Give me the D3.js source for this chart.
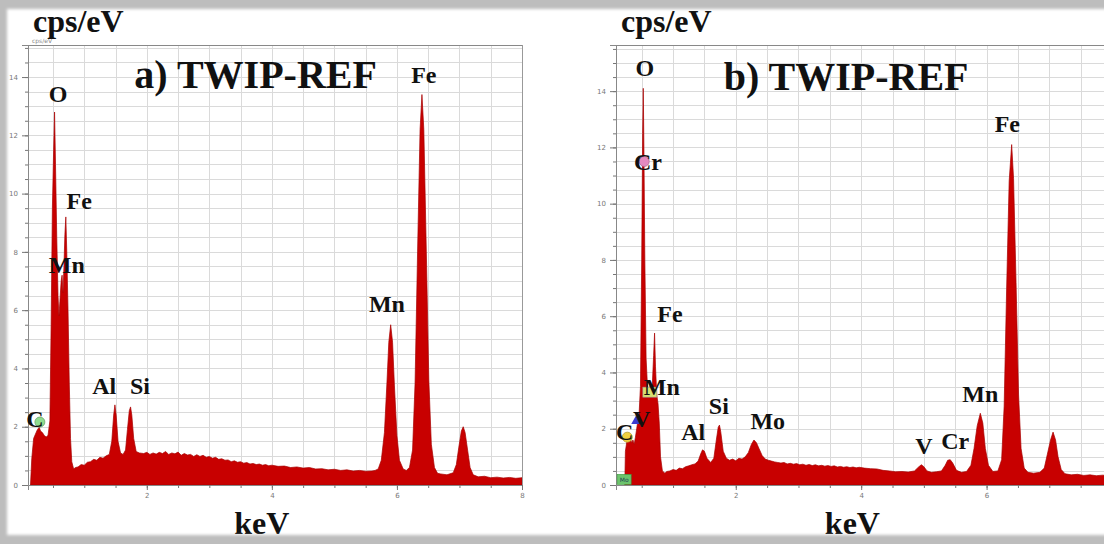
<!DOCTYPE html>
<html>
<head>
<meta charset="utf-8">
<script src="https://cdn.jsdelivr.net/npm/d3@7"></script>
<style>
  html, body { margin: 0; padding: 0; background: #fff; }
  svg { display: block; }
</style>
</head>
<body>
<svg id="chart" width="1104" height="544"></svg>
<script>
// EDS spectrum a), [keV, cps/eV]
const spectrumA = [
  [0.14, 0], [0.16, 0.9], [0.19, 1.6], [0.22, 1.75], [0.25, 1.9], [0.28, 1.98], [0.30, 1.85], [0.33, 1.8],
  [0.36, 1.7], [0.39, 1.65], [0.42, 1.7], [0.45, 2.2], [0.47, 5.5], [0.49, 9.5], [0.51, 11.5], [0.525, 12.8],
  [0.54, 11.0], [0.56, 8.5], [0.58, 6.5], [0.595, 5.8], [0.61, 6.3], [0.63, 7.0], [0.645, 7.2], [0.66, 6.6],
  [0.675, 7.5], [0.69, 8.6], [0.705, 9.2], [0.72, 8.0], [0.74, 6.0], [0.76, 3.5], [0.78, 1.6], [0.80, 0.8],
  [0.83, 0.55], [0.86, 0.6], [0.9, 0.62], [0.95, 0.7], [1.0, 0.68], [1.05, 0.78], [1.1, 0.8], [1.15, 0.88],
  [1.2, 0.85], [1.25, 0.95], [1.3, 0.92], [1.35, 1.0], [1.40, 1.05], [1.44, 1.5], [1.47, 2.4], [1.49, 2.75],
  [1.51, 2.4], [1.54, 1.5], [1.58, 1.1], [1.62, 1.05], [1.66, 1.2], [1.69, 1.9], [1.72, 2.55], [1.74, 2.68],
  [1.76, 2.4], [1.79, 1.6], [1.83, 1.15], [1.88, 1.1], [1.95, 1.08], [2.0, 1.12], [2.05, 1.05], [2.1, 1.1],
  [2.15, 1.06], [2.2, 1.12], [2.25, 1.08], [2.3, 1.15], [2.35, 1.05], [2.4, 1.1], [2.45, 1.07], [2.5, 1.13],
  [2.55, 1.02], [2.6, 1.08], [2.65, 1.03], [2.7, 1.05], [2.75, 0.98], [2.8, 1.04], [2.85, 0.98], [2.9, 1.02],
  [2.95, 0.95], [3.0, 0.98], [3.05, 0.92], [3.1, 0.95], [3.15, 0.88], [3.2, 0.9], [3.25, 0.85], [3.3, 0.86],
  [3.35, 0.8], [3.4, 0.83], [3.45, 0.78], [3.5, 0.8], [3.55, 0.75], [3.6, 0.77], [3.65, 0.72], [3.7, 0.74],
  [3.75, 0.7], [3.8, 0.72], [3.85, 0.68], [3.9, 0.7], [3.95, 0.66], [4.0, 0.68], [4.1, 0.64], [4.2, 0.65],
  [4.3, 0.6], [4.4, 0.62], [4.5, 0.58], [4.6, 0.6], [4.7, 0.55], [4.8, 0.56], [4.9, 0.52], [5.0, 0.54],
  [5.1, 0.5], [5.2, 0.52], [5.3, 0.48], [5.4, 0.5], [5.5, 0.47], [5.6, 0.48], [5.65, 0.5], [5.7, 0.55],
  [5.75, 0.85], [5.8, 1.8], [5.84, 3.5], [5.87, 4.9], [5.9, 5.5], [5.93, 4.9], [5.96, 3.4], [6.0, 1.7],
  [6.04, 0.85], [6.1, 0.55], [6.15, 0.5], [6.2, 0.6], [6.25, 1.2], [6.29, 3.5], [6.33, 8.0], [6.37, 12.2],
  [6.4, 13.4], [6.43, 12.2], [6.47, 8.0], [6.51, 3.6], [6.55, 1.4], [6.6, 0.6], [6.65, 0.4], [6.7, 0.38],
  [6.8, 0.35], [6.9, 0.42], [6.95, 0.7], [6.99, 1.3], [7.03, 1.85], [7.06, 2.0], [7.09, 1.8], [7.13, 1.2],
  [7.17, 0.6], [7.22, 0.35], [7.3, 0.28], [7.4, 0.3], [7.5, 0.25], [7.6, 0.27], [7.7, 0.24], [7.8, 0.26],
  [7.9, 0.23], [8.0, 0.25]
];

// EDS spectrum b)
const spectrumB = [
  [0.23, 0], [0.24, 1.2], [0.26, 1.5], [0.28, 1.7], [0.30, 1.55], [0.32, 1.65], [0.34, 1.5], [0.36, 1.6],
  [0.38, 1.45], [0.40, 1.7], [0.42, 2.0], [0.44, 2.3], [0.46, 2.6], [0.48, 3.5], [0.50, 8.0], [0.515, 12.5],
  [0.525, 14.1], [0.535, 12.0], [0.55, 8.0], [0.57, 4.5], [0.59, 3.6], [0.61, 3.3], [0.63, 3.5], [0.65, 3.2],
  [0.67, 3.6], [0.69, 4.6], [0.705, 5.4], [0.72, 4.2], [0.74, 3.2], [0.76, 2.9], [0.78, 2.2], [0.80, 1.0],
  [0.83, 0.5], [0.87, 0.42], [0.9, 0.48], [0.95, 0.5], [1.0, 0.55], [1.05, 0.52], [1.1, 0.6], [1.15, 0.58],
  [1.2, 0.65], [1.25, 0.68], [1.3, 0.72], [1.35, 0.75], [1.40, 0.85], [1.44, 1.1], [1.47, 1.25], [1.5, 1.2],
  [1.54, 0.95], [1.6, 0.8], [1.65, 0.95], [1.69, 1.6], [1.72, 2.05], [1.74, 2.13], [1.76, 1.9], [1.8, 1.2],
  [1.85, 0.95], [1.9, 0.88], [1.95, 0.92], [2.0, 0.86], [2.05, 0.95], [2.1, 0.92], [2.15, 1.0], [2.2, 1.15],
  [2.25, 1.45], [2.29, 1.6], [2.33, 1.5], [2.37, 1.3], [2.42, 1.05], [2.47, 0.92], [2.52, 0.88], [2.57, 0.85],
  [2.62, 0.82], [2.67, 0.8], [2.72, 0.78], [2.77, 0.8], [2.82, 0.75], [2.87, 0.77], [2.92, 0.74], [2.97, 0.76],
  [3.02, 0.72], [3.07, 0.74], [3.12, 0.7], [3.17, 0.73], [3.22, 0.69], [3.27, 0.72], [3.32, 0.68], [3.37, 0.7],
  [3.42, 0.67], [3.47, 0.69], [3.52, 0.66], [3.57, 0.68], [3.62, 0.64], [3.67, 0.66], [3.72, 0.63], [3.77, 0.65],
  [3.82, 0.62], [3.87, 0.64], [3.92, 0.61], [3.97, 0.63], [4.05, 0.6], [4.15, 0.58], [4.25, 0.57], [4.35, 0.52],
  [4.45, 0.5], [4.55, 0.47], [4.65, 0.48], [4.75, 0.46], [4.85, 0.5], [4.92, 0.65], [4.96, 0.72], [5.0, 0.65],
  [5.05, 0.5], [5.12, 0.45], [5.2, 0.47], [5.28, 0.5], [5.34, 0.7], [5.38, 0.88], [5.42, 0.9], [5.46, 0.78],
  [5.52, 0.52], [5.6, 0.45], [5.68, 0.48], [5.75, 0.7], [5.8, 1.3], [5.85, 2.1], [5.9, 2.55], [5.94, 2.2],
  [5.98, 1.3], [6.03, 0.7], [6.1, 0.48], [6.18, 0.5], [6.24, 0.9], [6.28, 2.8], [6.32, 7.0], [6.36, 10.8],
  [6.4, 12.1], [6.43, 10.9], [6.47, 7.2], [6.51, 3.2], [6.55, 1.3], [6.6, 0.6], [6.66, 0.45], [6.75, 0.42],
  [6.85, 0.45], [6.92, 0.6], [6.97, 1.1], [7.02, 1.6], [7.06, 1.88], [7.1, 1.6], [7.14, 1.0], [7.19, 0.55],
  [7.25, 0.4], [7.35, 0.36], [7.45, 0.38], [7.55, 0.34], [7.65, 0.36], [7.75, 0.33], [7.85, 0.35], [7.95, 0.33]
];

const labelsA = [
  { text: 'O', keV: 0.58, cps: 13.14 },
  { text: 'Fe', keV: 0.92, cps: 9.47 },
  { text: 'Mn', keV: 0.72, cps: 7.28 },
  { text: 'C', keV: 0.21, cps: 1.99 },
  { text: 'Al', keV: 1.32, cps: 3.12 },
  { text: 'Si', keV: 1.89, cps: 3.12 },
  { text: 'Mn', keV: 5.84, cps: 5.94 },
  { text: 'Fe', keV: 6.43, cps: 13.8 }
];

const labelsB = [
  { text: 'O', keV: 0.55, cps: 14.54 },
  { text: 'Cr', keV: 0.60, cps: 11.2 },
  { text: 'Fe', keV: 0.95, cps: 5.8 },
  { text: 'Mn', keV: 0.82, cps: 3.2 },
  { text: 'V', keV: 0.50, cps: 2.06 },
  { text: 'C', keV: 0.23, cps: 1.6 },
  { text: 'Al', keV: 1.32, cps: 1.6 },
  { text: 'Si', keV: 1.73, cps: 2.52 },
  { text: 'Mo', keV: 2.51, cps: 2.0 },
  { text: 'V', keV: 5.0, cps: 1.1 },
  { text: 'Cr', keV: 5.5, cps: 1.28 },
  { text: 'Mn', keV: 5.9, cps: 2.95 },
  { text: 'Fe', keV: 6.33, cps: 12.55 }
];

// little element markers from the EDS software
const markersA = [
  { shape: 'circle', keV: 0.29, cps: 2.16, color: '#8fdc8f' }
];
const markersB = [
  { shape: 'circle', keV: 0.27, cps: 1.7, color: '#f0d040' },
  { shape: 'triangle', keV: 0.41, cps: 2.27, color: '#3b3bd0' },
  { shape: 'rect', keV: 0.63, cps: 3.3, color: '#d8e070' },
  { shape: 'circle', keV: 0.54, cps: 11.5, color: '#e58ac0' },
  { shape: 'mo', keV: 0.22, cps: 0.2, color: '#6cc46c' }
];

const yTickValues = [0, 2, 4, 6, 8, 10, 12, 14];
const xTickValues = [2, 4, 6, 8];

const svg = d3.select('#chart');
svg.append('rect').attr('width', 1104).attr('height', 544).attr('fill', '#fff');

const panels = [
  { id: 'a', title: 'a) TWIP-REF', titleAt: [3.74, 13.62], data: spectrumA, labels: labelsA, markers: markersA,
    left: 28, right: 522, top: 45, bottom: 485, xDomain: [0.1, 8.0], yDomain: [0, 15.1], border: true },
  { id: 'b', title: 'b) TWIP-REF', titleAt: [3.76, 14.04], data: spectrumB, labels: labelsB, markers: markersB,
    left: 616, right: 1112, top: 45, bottom: 485, xDomain: [0.09, 8.0], yDomain: [0, 15.64], border: false }
];

panels.forEach(drawPanel);
drawFrame();

function drawPanel(p) {
  const x = d3.scaleLinear().domain(p.xDomain).range([p.left, p.right]);
  const y = d3.scaleLinear().domain(p.yDomain).range([p.bottom, p.top]);
  const g = svg.append('g').attr('class', 'panel-' + p.id);

  g.append('clipPath').attr('id', 'clip-' + p.id)
    .append('rect').attr('x', p.left).attr('y', p.top)
    .attr('width', p.right - p.left).attr('height', p.bottom - p.top);

  // grid every 0.5
  const grid = g.append('g').attr('class', 'grid').attr('stroke', '#dadada').attr('stroke-width', 1);
  grid.selectAll('.gx').data(d3.range(0.5, p.xDomain[1], 0.5)).enter().append('line')
    .attr('x1', d => Math.round(x(d)) + 0.5).attr('x2', d => Math.round(x(d)) + 0.5)
    .attr('y1', p.top).attr('y2', p.bottom);
  grid.selectAll('.gy').data(d3.range(0.5, p.yDomain[1], 0.5)).enter().append('line')
    .attr('y1', d => Math.round(y(d)) + 0.5).attr('y2', d => Math.round(y(d)) + 0.5)
    .attr('x1', p.left).attr('x2', p.right);

  // spectrum
  const area = d3.area().x(d => x(d[0])).y0(y(0)).y1(d => y(d[1]));
  g.append('path').datum(p.data.concat([[p.data[p.data.length - 1][0], 0]]))
    .attr('clip-path', 'url(#clip-' + p.id + ')')
    .attr('d', area).attr('fill', '#c80000')
    .attr('stroke', '#a80000').attr('stroke-width', 0.7);

  // axes (tick labels only where they fit in the picture)
  const visibleX = xTickValues.filter(v => x(v) < 1096);
  g.append('g').attr('transform', `translate(${p.left},0)`)
    .call(d3.axisLeft(y).tickValues(yTickValues).tickSize(6).tickPadding(4));
  g.append('g').attr('transform', `translate(${p.left},0)`)
    .call(d3.axisLeft(y).tickValues(d3.range(0, p.yDomain[1], 0.5)).tickSize(3).tickFormat(''))
    .select('.domain').remove();
  g.append('g').attr('transform', `translate(0,${p.bottom})`)
    .call(d3.axisBottom(x).tickValues(visibleX).tickSize(5).tickPadding(3));
  g.append('g').attr('transform', `translate(0,${p.bottom})`)
    .call(d3.axisBottom(x).tickValues(d3.range(0.5, p.xDomain[1], 0.5)).tickSize(3).tickFormat(''))
    .select('.domain').remove();
  g.selectAll('.tick line').attr('stroke', '#777');
  g.selectAll('.domain').attr('stroke', '#888');
  g.selectAll('.tick text').attr('fill', '#777').attr('font-size', 7)
    .attr('font-family', 'DejaVu Sans, sans-serif');

  // frame of the plot area
  g.append('line').attr('x1', p.left).attr('x2', p.right).attr('y1', p.top + 0.5).attr('y2', p.top + 0.5)
    .attr('stroke', '#888');
  if (p.border) {
    g.append('line').attr('x1', p.right + 0.5).attr('x2', p.right + 0.5).attr('y1', p.top).attr('y2', p.bottom)
      .attr('stroke', '#999');
  }
  if (p.id === 'a') {
    g.append('text').attr('x', p.left + 4).attr('y', p.top - 2).attr('font-size', 6)
      .attr('fill', '#888').attr('font-family', 'DejaVu Sans, sans-serif').text('cps/eV');
  }

  // markers
  p.markers.forEach(m => {
    const mx = x(m.keV), my = y(m.cps);
    if (m.shape === 'circle') {
      g.append('circle').attr('cx', mx).attr('cy', my).attr('r', 5)
        .attr('fill', m.color).attr('stroke', d3.color(m.color).darker(0.8)).attr('stroke-width', 0.8);
    } else if (m.shape === 'triangle') {
      g.append('path').attr('transform', `translate(${mx},${my})`)
        .attr('d', d3.symbol(d3.symbolTriangle, 40)).attr('fill', m.color);
    } else if (m.shape === 'rect') {
      g.append('rect').attr('x', mx - 7).attr('y', my - 5).attr('width', 14).attr('height', 10)
        .attr('fill', m.color).attr('stroke', '#999').attr('stroke-width', 0.6);
    } else if (m.shape === 'mo') {
      g.append('rect').attr('x', mx - 7).attr('y', my - 5).attr('width', 14).attr('height', 10)
        .attr('fill', m.color).attr('stroke', '#3a9a3a').attr('stroke-width', 0.6);
      g.append('text').attr('x', mx).attr('y', my + 2.5).attr('text-anchor', 'middle')
        .attr('font-size', 6).attr('fill', '#245').attr('font-family', 'DejaVu Sans, sans-serif').text('Mo');
    }
  });

  // element labels
  g.selectAll('.element').data(p.labels).enter().append('text')
    .attr('class', 'element')
    .attr('x', d => x(d.keV)).attr('y', d => y(d.cps))
    .attr('text-anchor', 'middle')
    .attr('font-family', 'Liberation Serif, Times New Roman, serif')
    .attr('font-weight', 'bold').attr('font-size', 24).attr('fill', '#111')
    .text(d => d.text);

  // title
  g.append('text')
    .attr('x', x(p.titleAt[0])).attr('y', y(p.titleAt[1]))
    .attr('text-anchor', 'middle')
    .attr('font-family', 'Liberation Serif, Times New Roman, serif')
    .attr('font-weight', 'bold').attr('font-size', 40).attr('fill', '#111')
    .text(p.title);

  // axis names
  g.append('text').attr('x', p.left + 5).attr('y', 32)
    .attr('font-family', 'Liberation Serif, Times New Roman, serif')
    .attr('font-weight', 'bold').attr('font-size', 32).attr('fill', '#111')
    .text('cps/eV');
  g.append('text').attr('x', x(p.id === 'a' ? 3.84 : 3.86)).attr('y', 534)
    .attr('text-anchor', 'middle')
    .attr('font-family', 'Liberation Serif, Times New Roman, serif')
    .attr('font-weight', 'bold').attr('font-size', 32).attr('fill', '#111')
    .text('keV');
}

function drawFrame() {
  const defs = svg.append('defs');
  defs.append('filter').attr('id', 'soft').attr('x', '-5%').attr('y', '-5%').attr('width', '110%').attr('height', '110%')
    .append('feGaussianBlur').attr('stdDeviation', 1.6);
  svg.append('path')
    .attr('fill-rule', 'evenodd')
    .attr('fill', '#bdbdbd')
    .attr('filter', 'url(#soft)')
    .attr('d', 'M-20,-20H1130V570H-20Z M7,9H1130V535H7Z');
}
</script>
</body>
</html>
